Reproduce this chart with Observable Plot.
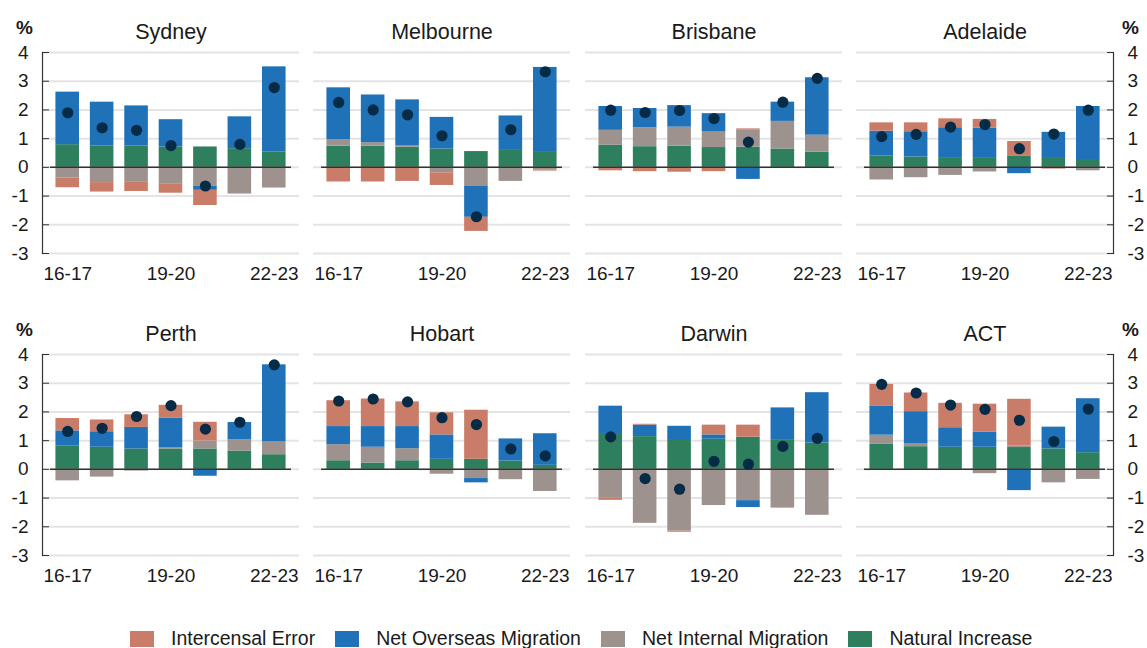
<!DOCTYPE html>
<html>
<head>
<meta charset="utf-8">
<script src="https://cdn.jsdelivr.net/npm/d3@7"></script>
<script src="https://cdn.jsdelivr.net/npm/@observablehq/plot@0.6"></script>
<style>
  html, body { margin: 0; padding: 0; background: #ffffff; }
  #chart { position: relative; width: 1147px; height: 648px; overflow: hidden; font-family: "Liberation Sans", Arial, sans-serif; }
  .panel { position: absolute; }
  .legend { position: absolute; left: 130px; top: 629px; display: flex; align-items: center; font-size: 19.5px; line-height: 19px; color: #1a1a1a; white-space: nowrap; }
  .legend .sw { width: 24px; height: 16px; margin-right: 17px; }
  .legend .item { display: flex; align-items: center; margin-right: 20px; }
</style>
</head>
<body>
<div id="chart"></div>
<script>
// ---- Data (percentage points of population growth) ----
const years = ["16-17", "17-18", "18-19", "19-20", "20-21", "21-22", "22-23"];
const xTickLabels = ["16-17", "19-20", "22-23"];
const yTicks = [-3, -2, -1, 0, 1, 2, 3, 4];
const cities = ["Sydney", "Melbourne", "Brisbane", "Adelaide", "Perth", "Hobart", "Darwin", "ACT"];
const seriesNames = ["Natural Increase", "Net Internal Migration", "Net Overseas Migration", "Intercensal Error"];
const legendOrder = ["Intercensal Error", "Net Overseas Migration", "Net Internal Migration", "Natural Increase"];

// one row per city, in the order of `cities`
const naturalIncrease = [
  [0.79, 0.74, 0.74, 0.71, 0.71, 0.65, 0.53],
  [0.74, 0.74, 0.70, 0.64, 0.55, 0.59, 0.55],
  [0.77, 0.72, 0.74, 0.69, 0.70, 0.64, 0.53],
  [0.40, 0.36, 0.34, 0.34, 0.40, 0.31, 0.24],
  [0.82, 0.77, 0.71, 0.71, 0.71, 0.64, 0.51],
  [0.30, 0.22, 0.30, 0.35, 0.35, 0.29, 0.14],
  [1.25, 1.14, 1.04, 1.05, 1.12, 1.01, 0.92],
  [0.87, 0.79, 0.77, 0.77, 0.76, 0.71, 0.58]
];
const netInternalMigration = [
  [-0.37, -0.53, -0.50, -0.57, -0.66, -0.93, -0.72],
  [0.23, 0.12, 0.04, -0.19, -0.65, -0.49, -0.10],
  [0.52, 0.66, 0.66, 0.54, 0.61, 0.96, 0.59],
  [-0.44, -0.36, -0.28, -0.16, 0.00, -0.03, -0.12],
  [-0.40, -0.27, -0.06, 0.05, 0.28, 0.39, 0.46],
  [0.56, 0.55, 0.42, -0.17, -0.32, -0.36, -0.77],
  [-1.01, -1.88, -2.15, -1.26, -1.09, -1.35, -1.60],
  [0.32, 0.11, -0.03, -0.15, 0.05, -0.47, -0.35]
];
const netOverseasMigration = [
  [1.83, 1.53, 1.40, 0.95, -0.14, 1.11, 2.97],
  [1.80, 1.66, 1.61, 1.10, -1.09, 1.20, 2.93],
  [0.83, 0.67, 0.75, 0.64, -0.42, 0.67, 2.00],
  [0.86, 0.88, 1.04, 1.03, -0.22, 0.91, 1.88],
  [0.52, 0.54, 0.75, 1.03, -0.24, 0.60, 2.67],
  [0.63, 0.72, 0.77, 0.85, -0.15, 0.77, 1.10],
  [0.95, 0.40, 0.46, 0.15, -0.24, 1.13, 1.75],
  [1.02, 1.11, 0.68, 0.52, -0.74, 0.76, 1.88]
];
const intercensalError = [
  [-0.34, -0.33, -0.34, -0.33, -0.53, 0.00, 0.00],
  [-0.51, -0.51, -0.49, -0.44, -0.49, 0.00, -0.03],
  [-0.12, -0.15, -0.17, -0.15, 0.03, 0.00, 0.00],
  [0.29, 0.31, 0.31, 0.30, 0.50, -0.03, 0.00],
  [0.43, 0.41, 0.44, 0.44, 0.65, 0.00, 0.00],
  [0.90, 0.96, 0.86, 0.77, 1.71, 0.00, 0.00],
  [-0.07, 0.03, -0.04, 0.34, 0.42, 0.00, 0.00],
  [0.75, 0.65, 0.85, 0.98, 1.63, 0.00, 0.00]
];
const totalGrowth = [
  [1.90, 1.38, 1.29, 0.76, -0.65, 0.80, 2.78],
  [2.26, 2.00, 1.83, 1.10, -1.72, 1.31, 3.33],
  [1.99, 1.91, 1.98, 1.70, 0.88, 2.27, 3.10],
  [1.07, 1.15, 1.40, 1.49, 0.65, 1.16, 1.99],
  [1.32, 1.43, 1.84, 2.22, 1.40, 1.64, 3.64],
  [2.38, 2.45, 2.35, 1.80, 1.56, 0.71, 0.47],
  [1.13, -0.32, -0.69, 0.28, 0.18, 0.80, 1.08],
  [2.96, 2.66, 2.24, 2.09, 1.71, 0.97, 2.10]
];

const colors = {
  "Natural Increase": "#2e7f5e",
  "Net Internal Migration": "#9d928e",
  "Net Overseas Migration": "#1f71b8",
  "Intercensal Error": "#c97d69"
};
const dotColor = "#062b47";
const seriesValues = [naturalIncrease, netInternalMigration, netOverseasMigration, intercensalError];

const chart = document.getElementById("chart");
const frameW = 257, frameH = 201, colStep = 271.3, rowStep = 302, left0 = 42, top0 = 52.3;
const mT = 52, mB = 48;
const yFmt = d => String(d);

cities.forEach((city, ci) => {
  const col = ci % 4, row = Math.floor(ci / 4);
  const mL = col === 0 ? 42 : 7;
  const mR = col === 3 ? 34 : 7;
  const bars = [];
  years.forEach((yr, i) => {
    seriesNames.forEach((name, s) => bars.push({year: yr, key: name, value: seriesValues[s][ci][i]}));
  });
  const dots = years.map((yr, i) => ({year: yr, total: totalGrowth[ci][i]}));

  const marks = [
    Plot.gridY(yTicks, {stroke: "#e4e4e4", strokeOpacity: 1, strokeWidth: 2}),
    Plot.barY(bars, Plot.stackY({x: "year", y: "value", fill: "key"})),
    Plot.ruleY([0], {stroke: "#333333", strokeWidth: 1.5, insetLeft: 8, insetRight: 8}),
    Plot.dot(dots, {x: "year", y: "total", r: 5.6, fill: dotColor}),
    Plot.axisX({ticks: xTickLabels, tickSize: 0, tickPadding: 13, fontSize: 19, label: null}),
    Plot.text([city], {text: d => d, frameAnchor: "top", dy: -20, lineAnchor: "middle", fontSize: 21.5, fill: "#1a1a1a"})
  ];
  if (col === 0) {
    marks.push(
      Plot.axisY({anchor: "left", ticks: yTicks, tickFormat: yFmt, tickSize: -7, tickPadding: 21, fontSize: 19, label: null, stroke: "#333"}),
      Plot.frame({anchor: "left", stroke: "#333", strokeWidth: 1.2}),
      Plot.text(["%"], {text: d => d, frameAnchor: "top-left", dx: -18, dy: -25, lineAnchor: "middle", textAnchor: "middle", fontSize: 19, fontWeight: "bold", fill: "#1a1a1a"})
    );
  }
  if (col === 3) {
    marks.push(
      Plot.axisY({anchor: "right", ticks: yTicks, tickFormat: yFmt, tickSize: -7, tickPadding: 21, fontSize: 19, label: null, stroke: "#333"}),
      Plot.frame({anchor: "right", stroke: "#333", strokeWidth: 1.2}),
      Plot.text(["%"], {text: d => d, frameAnchor: "top-right", dx: 17, dy: -25, lineAnchor: "middle", textAnchor: "middle", fontSize: 19, fontWeight: "bold", fill: "#1a1a1a"})
    );
  }

  const svg = Plot.plot({
    width: mL + frameW + mR,
    height: mT + frameH + mB,
    marginLeft: mL,
    marginRight: mR,
    marginTop: mT,
    marginBottom: mB,
    style: {background: "transparent", fontFamily: "'Liberation Sans', Arial, sans-serif", fontSize: "19px", color: "#1a1a1a", overflow: "visible"},
    x: {type: "band", domain: years, paddingInner: 0.315, paddingOuter: 0.39, round: false, axis: null, label: null},
    y: {domain: [-3, 4], axis: null, label: null},
    color: {domain: seriesNames, range: seriesNames.map(n => colors[n])},
    marks
  });
  const wrap = document.createElement("div");
  wrap.className = "panel";
  wrap.style.left = (left0 + col * colStep - mL) + "px";
  wrap.style.top = (top0 + row * rowStep - mT) + "px";
  wrap.appendChild(svg);
  chart.appendChild(wrap);
});

// legend
const legend = document.createElement("div");
legend.className = "legend";
legendOrder.forEach(name => {
  const item = document.createElement("div");
  item.className = "item";
  const sw = document.createElement("span");
  sw.className = "sw";
  sw.style.background = colors[name];
  const label = document.createElement("span");
  label.textContent = name;
  item.appendChild(sw);
  item.appendChild(label);
  legend.appendChild(item);
});
chart.appendChild(legend);
</script>
</body>
</html>
